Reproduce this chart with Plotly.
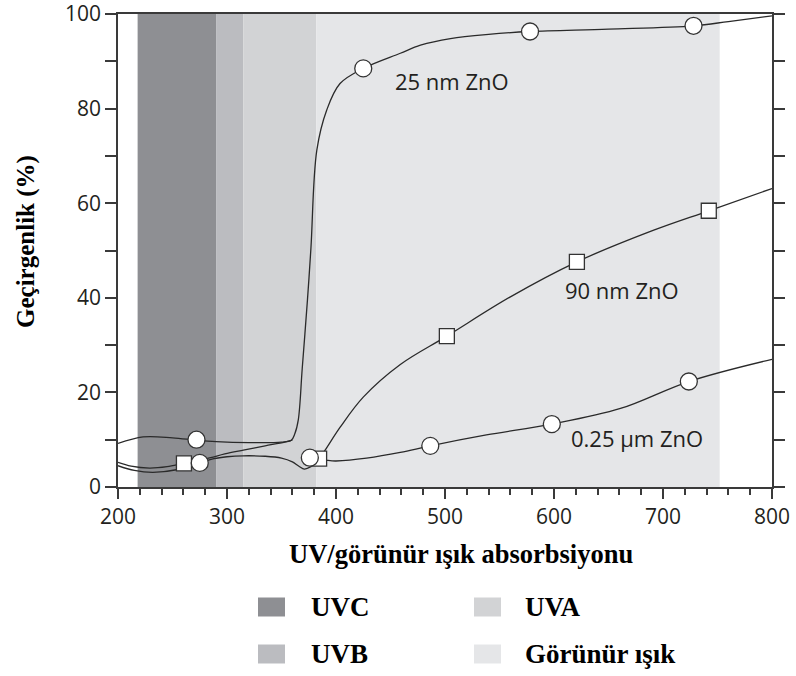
import plotly.graph_objects as go

# ---- spectral bands (nm) ----
band_names = ["UVC", "UVB", "UVA", "Görünür ışık"]
band_start = [218, 290, 315, 382]
band_end = [290, 315, 382, 752]

# ---- transmittance curves (wavelength nm, transmittance %) ----
zno25_x = [200, 223, 250, 272, 290, 320, 350, 359, 362.3, 365.4, 369, 373.8, 377, 382.4,
           391.5, 403.7, 425, 459, 477.5, 505, 540, 578, 650, 728, 760, 800]
zno25_y = [9.2, 10.6, 10.4, 9.9, 9.6, 9.4, 9.5, 9.9, 11.3, 14.2, 25, 39.5, 50.5, 71.2,
           79.7, 85.3, 88.5, 91.7, 93.4, 94.8, 95.7, 96.3, 96.8, 97.5, 98.4, 99.6]

zno90_low_x = [200, 212, 229, 245, 260, 272, 285, 298, 315, 335, 353, 360]
zno90_low_y = [5.2, 4.4, 4.0, 4.3, 5.0, 5.5, 6.2, 7.0, 7.8, 8.7, 9.5, 9.9]
zno90_x = [384.5, 390, 404, 425, 459, 501.7, 560, 621, 691.5, 742, 800]
zno90_y = [6.0, 7.8, 12.7, 19.0, 25.9, 31.9, 40.2, 47.6, 54.3, 58.4, 63.1]

zno025_x = [200, 215, 232, 255, 275, 288, 300, 315, 335, 350, 360, 366, 371, 377, 384,
            400, 428, 459, 486.5, 538, 598, 661, 723.7, 800]
zno025_y = [4.5, 3.5, 3.1, 3.7, 5.1, 6.0, 6.4, 6.6, 6.5, 6.1, 5.3, 4.4, 3.8, 4.3, 5.6,
            5.5, 6.1, 7.3, 8.7, 11.0, 13.3, 16.6, 22.3, 27.0]

# ---- measured points ----
pts25_x = [272, 425, 578, 728]
pts25_y = [10.0, 88.5, 96.3, 97.5]
pts90_x = [260.5, 384.5, 501.7, 621, 742]
pts90_y = [5.0, 6.0, 31.9, 47.6, 58.4]
pts025_x = [275, 376, 486.5, 598, 723.7]
pts025_y = [5.1, 6.2, 8.7, 13.3, 22.3]

# ---- curve labels ----
label_text = ["25 nm ZnO", "90 nm ZnO", "0.25 µm ZnO"]
label_x = [452, 608, 614]
label_y = [85.8, 41.6, 10.4]

# ---- axis ticks ----
x_ticks = [200, 300, 400, 500, 600, 700, 800]
y_ticks = [0, 20, 40, 60, 80, 100]

# ---- styling ----
band_colors = ["#8e8f93", "#bbbcc0", "#d2d3d5", "#e5e6e8"]
ink = "#2a2a2a"
axis_col = "#3a3a3a"
sans = "Open Sans"
serif = "Liberation Serif"

W, H = 796, 676
PL, PR, PT, PB = 118, 772, 14, 487   # plot area in pixels


def paper(px, py):
    return (px - PL) / (PR - PL), (PB - py) / (PB - PT)


fig = go.Figure()

line_style = dict(color=ink, width=1.3, shape="spline", smoothing=1.0)
for xs, ys in [(zno25_x, zno25_y), (zno90_low_x, zno90_low_y),
               (zno90_x, zno90_y), (zno025_x, zno025_y)]:
    fig.add_trace(go.Scatter(x=xs, y=ys, mode="lines", line=line_style,
                             hoverinfo="skip", showlegend=False))

mk_line = dict(color="#333333", width=1.3)
fig.add_trace(go.Scatter(x=pts90_x, y=pts90_y, mode="markers", showlegend=False,
                         marker=dict(symbol="square", size=15, color="white", line=mk_line)))
fig.add_trace(go.Scatter(x=pts25_x, y=pts25_y, mode="markers", showlegend=False,
                         marker=dict(symbol="circle", size=17, color="white", line=mk_line)))
fig.add_trace(go.Scatter(x=pts025_x, y=pts025_y, mode="markers", showlegend=False,
                         marker=dict(symbol="circle", size=17, color="white", line=mk_line)))

shapes = []
for x0, x1, c in zip(band_start, band_end, band_colors):
    shapes.append(dict(type="rect", xref="x", yref="y", x0=x0, x1=x1, y0=0, y1=100,
                       fillcolor=c, line=dict(width=0), layer="below"))

annotations = []
for t, x, y in zip(label_text, label_x, label_y):
    annotations.append(dict(text=t, x=x, y=y, xref="x", yref="y", xanchor="left",
                            yanchor="middle", showarrow=False,
                            font=dict(family=sans, size=22, color="#231f20")))

# band key below the axes
key_sq_x = [258, 474]
key_txt_x = [309, 523]
key_row_y = [607, 654]
for i, (name, c) in enumerate(zip(band_names, band_colors)):
    col, row = i // 2, i % 2
    x0, y0 = paper(key_sq_x[col], key_row_y[row] - 9.5)
    x1, y1 = paper(key_sq_x[col] + 27, key_row_y[row] + 9.5)
    shapes.append(dict(type="rect", xref="paper", yref="paper", x0=x0, x1=x1,
                       y0=y0, y1=y1, fillcolor=c, line=dict(width=0)))
    tx, ty = paper(key_txt_x[col], key_row_y[row])
    annotations.append(dict(text="<b>%s</b>" % name, x=tx, y=ty, xref="paper", yref="paper",
                            xanchor="left", yanchor="middle", showarrow=False,
                            font=dict(family=serif, size=27, color="black")))

# axis titles
tx, ty = paper(461, 554)
annotations.append(dict(text="<b>UV/görünür ışık absorbsiyonu</b>", x=tx, y=ty,
                        xref="paper", yref="paper", showarrow=False,
                        xanchor="center", yanchor="middle",
                        font=dict(family=serif, size=26.5, color="black")))
tx, ty = paper(26, 242)
annotations.append(dict(text="<b>Geçirgenlik (%)</b>", x=tx, y=ty, textangle=-90,
                        xref="paper", yref="paper", showarrow=False,
                        xanchor="center", yanchor="middle",
                        font=dict(family=serif, size=25, color="black")))

tick_font = dict(family=sans, size=21, color="#231f20")
fig.update_layout(
    template="none",
    width=W, height=H,
    margin=dict(l=PL, r=W - PR, t=PT, b=H - PB, pad=0, autoexpand=False),
    paper_bgcolor="white", plot_bgcolor="white",
    shapes=shapes, annotations=annotations,
    xaxis=dict(range=[200, 800], tickmode="array", tickvals=x_ticks, ticks="outside",
               ticklen=10, tickwidth=1.5, tickcolor=axis_col, showline=True,
               linecolor=axis_col, linewidth=1.5, mirror=True, showgrid=False,
               zeroline=False, automargin=False, tickfont=tick_font,
               ticklabeloverflow="allow",
               minor=dict(dtick=20, tick0=200, ticks="outside", ticklen=6, tickwidth=1.5,
                          tickcolor=axis_col, showgrid=False)),
    yaxis=dict(range=[0, 100], tickmode="array", tickvals=y_ticks, ticks="outside",
               ticklen=11, tickwidth=1.5, tickcolor=axis_col, showline=True,
               linecolor=axis_col, linewidth=1.5, mirror="ticks", showgrid=False,
               zeroline=False, automargin=False, tickfont=tick_font,
               ticklabeloverflow="allow",
               minor=dict(dtick=10, tick0=0, ticks="outside", ticklen=11, tickwidth=1.5,
                          tickcolor=axis_col, showgrid=False)),
)

fig.write_html("out.html")
